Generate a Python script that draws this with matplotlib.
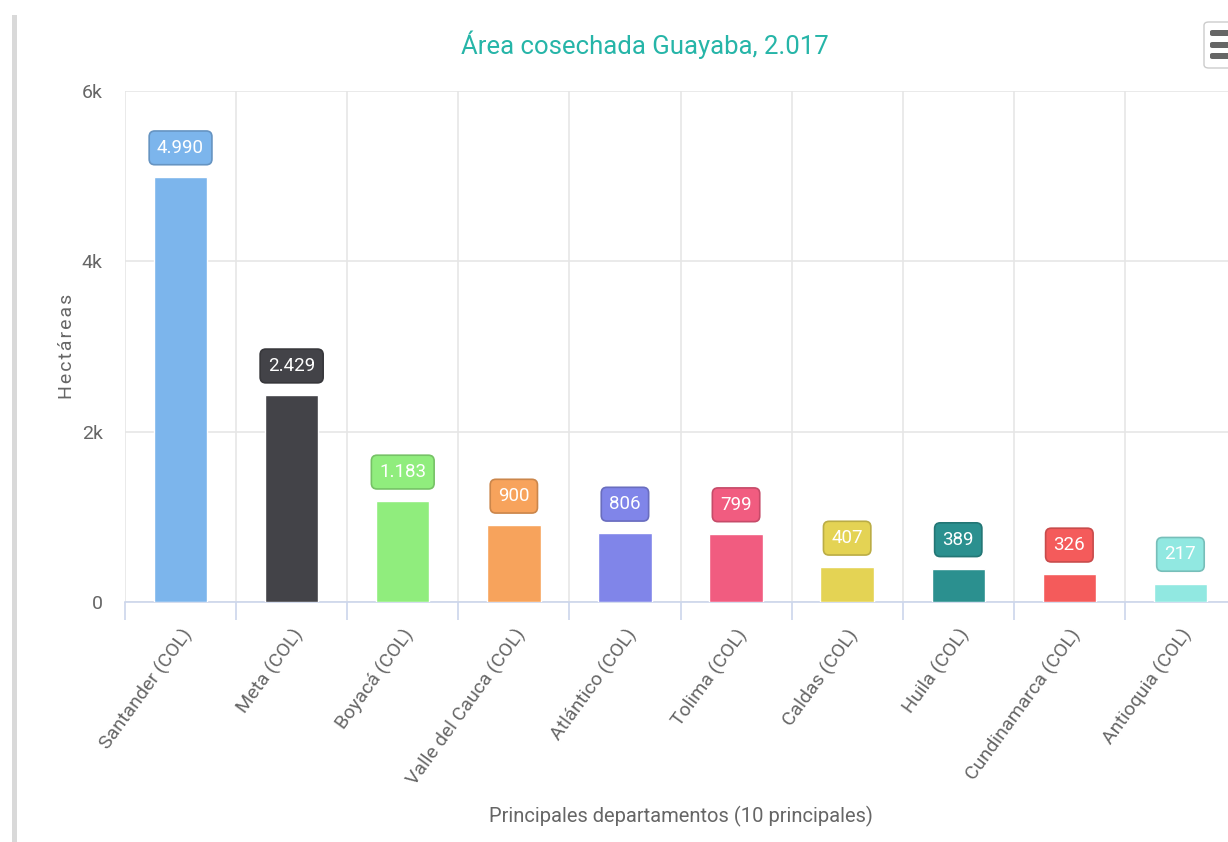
import numpy as np
import matplotlib
matplotlib.use("Agg")
import matplotlib.pyplot as plt
from matplotlib.patches import FancyBboxPatch, Rectangle
from matplotlib import colors as mcolors

plt.rcParams["font.family"] = ["Roboto", "DejaVu Sans"]

departamentos = ["Santander (COL)", "Meta (COL)", "Boyacá (COL)", "Valle del Cauca (COL)",
                 "Atlántico (COL)", "Tolima (COL)", "Caldas (COL)", "Huila (COL)",
                 "Cundinamarca (COL)", "Antioquia (COL)"]
hectareas = [4990, 2429, 1183, 900, 806, 799, 407, 389, 326, 217]
etiquetas = ["4.990", "2.429", "1.183", "900", "806", "799", "407", "389", "326", "217"]
colores = ["#7cb5ec", "#434348", "#90ed7d", "#f7a35c", "#8085e9",
           "#f15c80", "#e4d354", "#2b908f", "#f45b5b", "#91e8e1"]
yticks = [0, 2000, 4000, 6000]
ytick_labels = ["0", "2k", "4k", "6k"]

W, H = 1228, 842
fig = plt.figure(figsize=(W / 100, H / 100), dpi=100)
ax = fig.add_axes([125 / W, 1 - 602 / H, 1111 / W, 511 / H])

TXT = "#666666"
AXC = "#ccd6eb"
GRID = "#e6e6e6"

x = np.arange(len(hectareas))
ax.bar(x, hectareas, width=0.48, color=colores, edgecolor="white", linewidth=1, zorder=3)

for xi, v, lab, c in zip(x, hectareas, etiquetas, colores):
    dark = tuple(np.array(mcolors.to_rgb(c)) * 0.82)
    ax.annotate(lab, (xi, v), xytext=(0, 21), textcoords="offset points",
                ha="center", va="center", color="white", fontsize=13.5,
                bbox=dict(boxstyle="round,pad=0.42,rounding_size=0.3", fc=c, ec=dark, lw=1.2),
                zorder=5)

ax.set_xlim(-0.5, len(hectareas) - 0.5)
ax.set_ylim(0, 6000)
ax.set_yticks(yticks)
ax.set_yticklabels(ytick_labels, color=TXT, fontsize=14)
ax.tick_params(axis="y", length=0, pad=16)
ax.yaxis.grid(True, color=GRID, lw=1.2, zorder=0)

ax.set_xticks(x)
ax.set_xticklabels(departamentos, rotation=54, ha="right", rotation_mode="anchor",
                   color=TXT, fontsize=14)
ax.tick_params(axis="x", which="major", length=0, pad=17)
ax.set_xticks(np.arange(-0.5, len(hectareas)), minor=True)
ax.tick_params(axis="x", which="minor", length=13, color=AXC, width=1.2)
ax.xaxis.grid(True, which="minor", color=GRID, lw=1.2, zorder=0)

for s in ["top", "right", "left"]:
    ax.spines[s].set_visible(False)
ax.spines["bottom"].set_color(AXC)
ax.spines["bottom"].set_linewidth(1.2)
ax.spines["bottom"].set_zorder(2)

ax.set_ylabel("H\u200ae\u200ac\u200at\u200aá\u200ar\u200ae\u200aa\u200as", color=TXT, fontsize=14)
ax.yaxis.set_label_coords(-(125 - 67) / 1111, 0.5)
ax.yaxis.label.set_va("center")
ax.set_xlabel("Principales departamentos (10 principales)", color=TXT, fontsize=14.5)
ax.xaxis.set_label_coords(556 / 1111, -(806 - 602) / 511)

fig.text(645 / W, 1 - 45 / H, "Área cosechada Guayaba, 2.017", color="#26b5a8",
         fontsize=18.5, ha="center", va="center")

# borde de la página y botón de menú
fig.patches.append(Rectangle((12 / W, 0), 5 / W, 1 - 15 / H, transform=fig.transFigure,
                             fc="#d9d9d9", ec="none"))
fig.patches.append(FancyBboxPatch((1204 / W, 1 - 68 / H), 40 / W, 46 / H,
                                  boxstyle="round,pad=0,rounding_size=0.004",
                                  transform=fig.transFigure, fc="white", ec="#cccccc", lw=1))
for yy in (33, 45, 56):
    fig.patches.append(FancyBboxPatch((1210 / W, 1 - (yy + 3) / H), 30 / W, 6 / H,
                                      boxstyle="round,pad=0,rounding_size=0.002",
                                      transform=fig.transFigure, fc="#666666", ec="none"))

fig.savefig("out.png", dpi=100)
